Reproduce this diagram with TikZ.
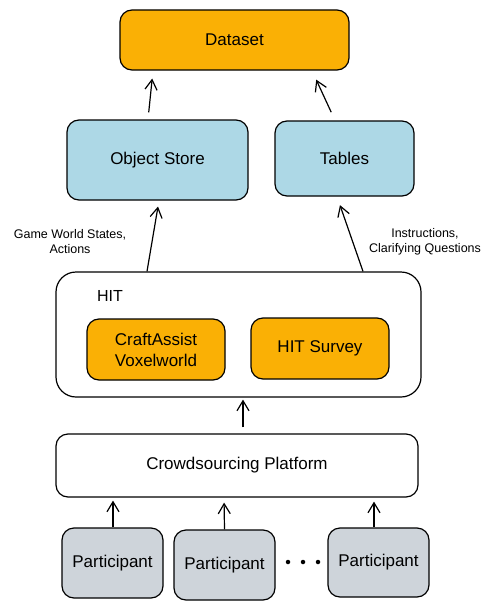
\documentclass[tikz,border=0pt]{standalone}
\usepackage{fontspec}
\setmainfont{Liberation Sans}
\usetikzlibrary{arrows.meta}
\definecolor{orng}{RGB}{250,176,5}
\definecolor{lblue}{RGB}{173,216,230}
\definecolor{lgray}{RGB}{206,212,218}
\begin{document}
\begin{tikzpicture}[x=1pt,y=-1pt,
  box/.style={draw, line width=1.2pt, rounded corners=12pt, align=center, inner sep=0pt, font=\fontsize{17}{21}\selectfont},
  arr/.style={-{Straight Barb[length=10pt,width=12pt]}, line width=1.2pt},
  lbl/.style={align=center, font=\fontsize{12.5}{15}\selectfont, inner sep=0pt},
  dot/.style={circle, fill, inner sep=0pt, minimum size=4.5pt}]
\useasboundingbox (0,0) rectangle (492,610);
\node[box, fill=orng, minimum width=229pt, minimum height=60pt] (ds) at (234.5,40) {Dataset};
\node[box, fill=lblue, minimum width=181pt, minimum height=80pt] (os) at (157.5,160) {Object Store};
\node[box, fill=lblue, minimum width=139pt, minimum height=75pt] (tb) at (344.5,158.5) {Tables};
\node[box, fill=white, rounded corners=20pt, minimum width=365pt, minimum height=125pt] (hit) at (238.5,334.5) {};
\node[lbl, font=\fontsize{16}{19}\selectfont] (hitl) at (110,296) {HIT};
\node[box, fill=orng, minimum width=138pt, minimum height=61pt] (ca) at (156,349.5) {CraftAssist\\Voxelworld};
\node[box, fill=orng, minimum width=138pt, minimum height=61pt] (hs) at (320,348.5) {HIT Survey};
\node[box, fill=white, minimum width=362pt, minimum height=63pt] (cp) at (237,465.5) {Crowdsourcing Platform};
\node[box, fill=lgray, minimum width=101pt, minimum height=70pt] (p1) at (112.5,563) {Participant};
\node[box, fill=lgray, minimum width=101pt, minimum height=70pt] (p2) at (224.5,565) {Participant};
\node[box, fill=lgray, minimum width=101pt, minimum height=69pt] (p3) at (378.5,562.5) {Participant};
\node[dot] (d1) at (288,562) {};
\node[dot] (d2) at (303,562) {};
\node[dot] (d3) at (318,562) {};
\node[lbl] (l1) at (70,242) {Game World States,\\Actions};
\node[lbl] (l2) at (425,242) {Instructions,\\Clarifying Questions};
\draw[arr, shorten <=7pt, shorten >=8pt] ([xshift=-9.5pt]os.north) -- ([xshift=-81.5pt]ds.south);
\draw[arr, shorten <=9pt, shorten >=10pt] ([xshift=-9.5pt]tb.north) -- ([xshift=77.5pt]ds.south);
\draw[arr, shorten >=6pt] ([xshift=-91.5pt]hit.north) -- ([xshift=1.5pt]os.south);
\draw[arr, shorten >=9pt] ([xshift=124.5pt]hit.north) -- ([xshift=-7.5pt]tb.south);
\draw[arr, shorten <=6pt, shorten >=2pt] ([xshift=6pt]cp.north) -- ([xshift=4.5pt]hit.south);
\draw[arr, shorten >=3pt] ([xshift=0.5pt]p1.north) -- ([xshift=-124pt]cp.south);
\draw[arr, shorten >=5pt] (p2.north) -- ([xshift=-13pt]cp.south);
\draw[arr, shorten >=4pt] ([xshift=-4.5pt]p3.north) -- ([xshift=137pt]cp.south);
\end{tikzpicture}
\end{document}
